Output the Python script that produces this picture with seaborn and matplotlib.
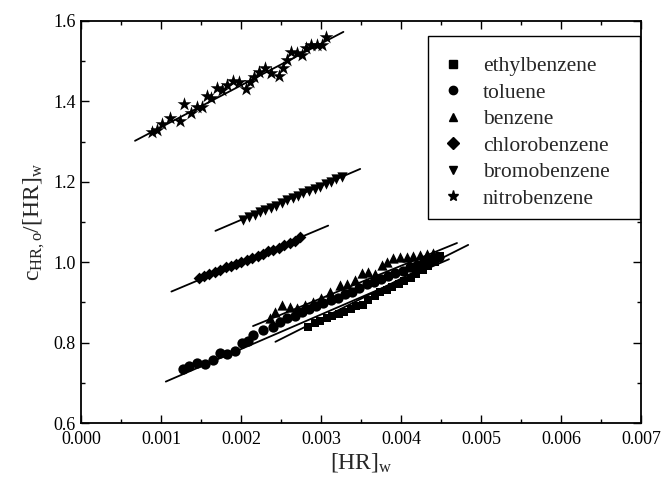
import numpy as np
import pandas as pd
import matplotlib
matplotlib.use("Agg")
import matplotlib.pyplot as plt
from matplotlib.lines import Line2D
from matplotlib.patches import Rectangle
from matplotlib.ticker import MultipleLocator, FormatStrFormatter
import seaborn as sns

# ---------------- data ----------------
names = ["ethylbenzene", "toluene", "benzene", "chlorobenzene", "bromobenzene", "nitrobenzene"]
markers = ["s", "o", "^", "D", "v", "*"]

ethyl_x = [0.00284, 0.00292, 0.00299, 0.00307, 0.00314, 0.00322, 0.00329, 0.00337, 0.00344, 0.00352,
           0.00359, 0.00367, 0.00374, 0.00382, 0.00389, 0.00397, 0.00404, 0.00412, 0.00419, 0.00427,
           0.00434, 0.00442, 0.00449]
ethyl_y = [0.840, 0.848, 0.853, 0.862, 0.866, 0.872, 0.877, 0.884, 0.890, 0.893,
           0.905, 0.915, 0.925, 0.932, 0.938, 0.945, 0.952, 0.960, 0.970, 0.980,
           0.990, 1.000, 1.015]

tol_x = [0.00127, 0.00135, 0.00145, 0.00155, 0.00165, 0.00174, 0.00183, 0.00193, 0.00201, 0.00209,
         0.00215, 0.00228, 0.00240, 0.00249, 0.00258, 0.00267, 0.00276, 0.00285, 0.00294, 0.00303,
         0.00312, 0.00321, 0.00330, 0.00339, 0.00348, 0.00357, 0.00366, 0.00375, 0.00384, 0.00393,
         0.00402, 0.00411, 0.00420, 0.00429, 0.00438, 0.00447]
tol_y = [0.734, 0.742, 0.750, 0.748, 0.757, 0.775, 0.771, 0.780, 0.800, 0.805,
         0.819, 0.831, 0.840, 0.852, 0.860, 0.866, 0.876, 0.884, 0.890, 0.898,
         0.905, 0.912, 0.920, 0.925, 0.936, 0.945, 0.950, 0.957, 0.966, 0.972,
         0.978, 0.988, 0.993, 1.000, 1.006, 1.012]

benz_x = [0.00236, 0.00243, 0.00251, 0.00261, 0.00270, 0.00280, 0.00290, 0.00300, 0.00311, 0.00324,
          0.00332, 0.00342, 0.00351, 0.00359, 0.00368, 0.00376, 0.00382, 0.00390, 0.00399, 0.00407,
          0.00415, 0.00424, 0.00432, 0.00440]
benz_y = [0.860, 0.877, 0.893, 0.889, 0.885, 0.893, 0.900, 0.912, 0.927, 0.943,
          0.947, 0.955, 0.972, 0.976, 0.970, 0.993, 1.001, 1.010, 1.012, 1.014,
          1.015, 1.018, 1.020, 1.022]

chloro_x = [0.00147, 0.00154, 0.00160, 0.00167, 0.00174, 0.00181, 0.00187, 0.00194, 0.00200, 0.00207,
            0.00214, 0.00221, 0.00227, 0.00234, 0.00240, 0.00247, 0.00254, 0.00261, 0.00267, 0.00274]
chloro_y = [0.960, 0.966, 0.970, 0.976, 0.980, 0.987, 0.990, 0.996, 1.000, 1.006,
            1.010, 1.016, 1.020, 1.027, 1.030, 1.036, 1.042, 1.047, 1.052, 1.063]

bromo_x = [0.00203, 0.00210, 0.00217, 0.00224, 0.00230, 0.00237, 0.00244, 0.00251, 0.00258, 0.00265,
           0.00271, 0.00278, 0.00285, 0.00292, 0.00299, 0.00306, 0.00312, 0.00319, 0.00326]
bromo_y = [1.105, 1.113, 1.118, 1.124, 1.130, 1.135, 1.140, 1.147, 1.154, 1.159,
           1.164, 1.171, 1.176, 1.183, 1.187, 1.194, 1.200, 1.206, 1.212]

nitro_x = [0.000883, 0.000946, 0.00101, 0.00111, 0.00124, 0.00129, 0.00138, 0.00145, 0.00151, 0.00157,
           0.00163, 0.00170, 0.00176, 0.00182, 0.00190, 0.00197, 0.00206, 0.00211, 0.00216, 0.00223,
           0.00230, 0.00238, 0.00247, 0.00252, 0.00257, 0.00262, 0.00270, 0.00276, 0.00281, 0.00288,
           0.00295, 0.00301, 0.00306]
nitro_y = [1.325, 1.328, 1.345, 1.358, 1.350, 1.393, 1.370, 1.387, 1.387, 1.413,
           1.408, 1.433, 1.428, 1.441, 1.451, 1.449, 1.430, 1.449, 1.460, 1.474,
           1.482, 1.470, 1.463, 1.482, 1.503, 1.524, 1.520, 1.515, 1.532, 1.540,
           1.540, 1.540, 1.559]

# linear fits (slope, intercept) and the x-range over which each is drawn
fit_slope = [100.0, 86.0, 81.0, 83.7, 85.1, 104.0]
fit_intercept = [0.559, 0.6118, 0.667, 0.8324, 0.935, 1.2318]
fit_xmin = [0.00243, 0.00106, 0.00215, 0.00113, 0.00168, 0.000675]
fit_xmax = [0.00484, 0.00460, 0.00470, 0.00309, 0.00349, 0.00328]

xs = [ethyl_x, tol_x, benz_x, chloro_x, bromo_x, nitro_x]
ys = [ethyl_y, tol_y, benz_y, chloro_y, bromo_y, nitro_y]

df = pd.concat([pd.DataFrame({"x": x, "y": y, "compound": n}) for x, y, n in zip(xs, ys, names)],
               ignore_index=True)

# ---------------- style ----------------
sns.set_theme(style="ticks")
plt.rcParams["font.family"] = ["Liberation Serif", "DejaVu Serif"]
plt.rcParams["mathtext.fontset"] = "custom"
plt.rcParams["mathtext.rm"] = "Liberation Serif"
plt.rcParams["mathtext.it"] = "Liberation Serif:italic"

W, H = 665, 498
fig = plt.figure(figsize=(W / 100, H / 100), dpi=100)
ax = fig.add_axes([81 / W, 1 - 423 / H, (641 - 81) / W, (423 - 21) / H])

sizes = {"s": 36, "o": 55, "^": 55, "D": 36, "v": 55, "*": 110}
for n, m in zip(names, markers):
    sub = df[df["compound"] == n]
    sns.scatterplot(data=sub, x="x", y="y", marker=m, color="black", s=sizes[m],
                    linewidth=0, ax=ax, legend=False, zorder=3)

for a, b, x0, x1 in zip(fit_slope, fit_intercept, fit_xmin, fit_xmax):
    lx = np.array([x0, x1])
    ax.plot(lx, a * lx + b, color="black", lw=1.3, zorder=2)

ax.set_xlim(0, 0.007)
ax.set_ylim(0.6, 1.6)
ax.xaxis.set_major_locator(MultipleLocator(0.001))
ax.xaxis.set_minor_locator(MultipleLocator(0.0005))
ax.yaxis.set_major_locator(MultipleLocator(0.2))
ax.yaxis.set_minor_locator(MultipleLocator(0.1))
ax.xaxis.set_major_formatter(FormatStrFormatter("%.3f"))
ax.yaxis.set_major_formatter(FormatStrFormatter("%.1f"))
ax.tick_params(which="both", direction="in", top=True, right=True, labeltop=False,
               labelright=False, colors="black", labelsize=13, width=1.0)
ax.tick_params(which="major", length=6)
ax.tick_params(axis="x", which="major", pad=6)
ax.tick_params(axis="y", which="major", pad=4)
ax.tick_params(which="minor", length=3)
for s in ax.spines.values():
    s.set_linewidth(1.3)
    s.set_color("black")

ax.set_xlabel(r"$\mathrm{[HR]_w}$", fontsize=17, labelpad=2)
ax.set_ylabel(r"$\mathrm{c_{HR,o}/[HR]_w}$", fontsize=17, labelpad=4)

# legend: frameless legend plus a separate box outline (pixel layout of the reference)
handles = [Line2D([], [], marker=m, color="black", linestyle="none",
                  markersize=(8 if m == "*" else 6)) for m in markers]
leg = fig.legend(handles, names, loc="upper left", bbox_to_anchor=(443 / W, 1 - 56 / H),
                 frameon=False, fontsize=15.5, handletextpad=0.93, labelspacing=0.3,
                 borderpad=0.0, handlelength=0.93, borderaxespad=0.0)
fig.patches.append(Rectangle((428 / W, 1 - 219 / H), (640 - 428) / W, (219 - 36) / H,
                             transform=fig.transFigure, fill=True, facecolor="white",
                             edgecolor="black", linewidth=1.0, zorder=0.5))

fig.savefig("out.png", dpi=100)
